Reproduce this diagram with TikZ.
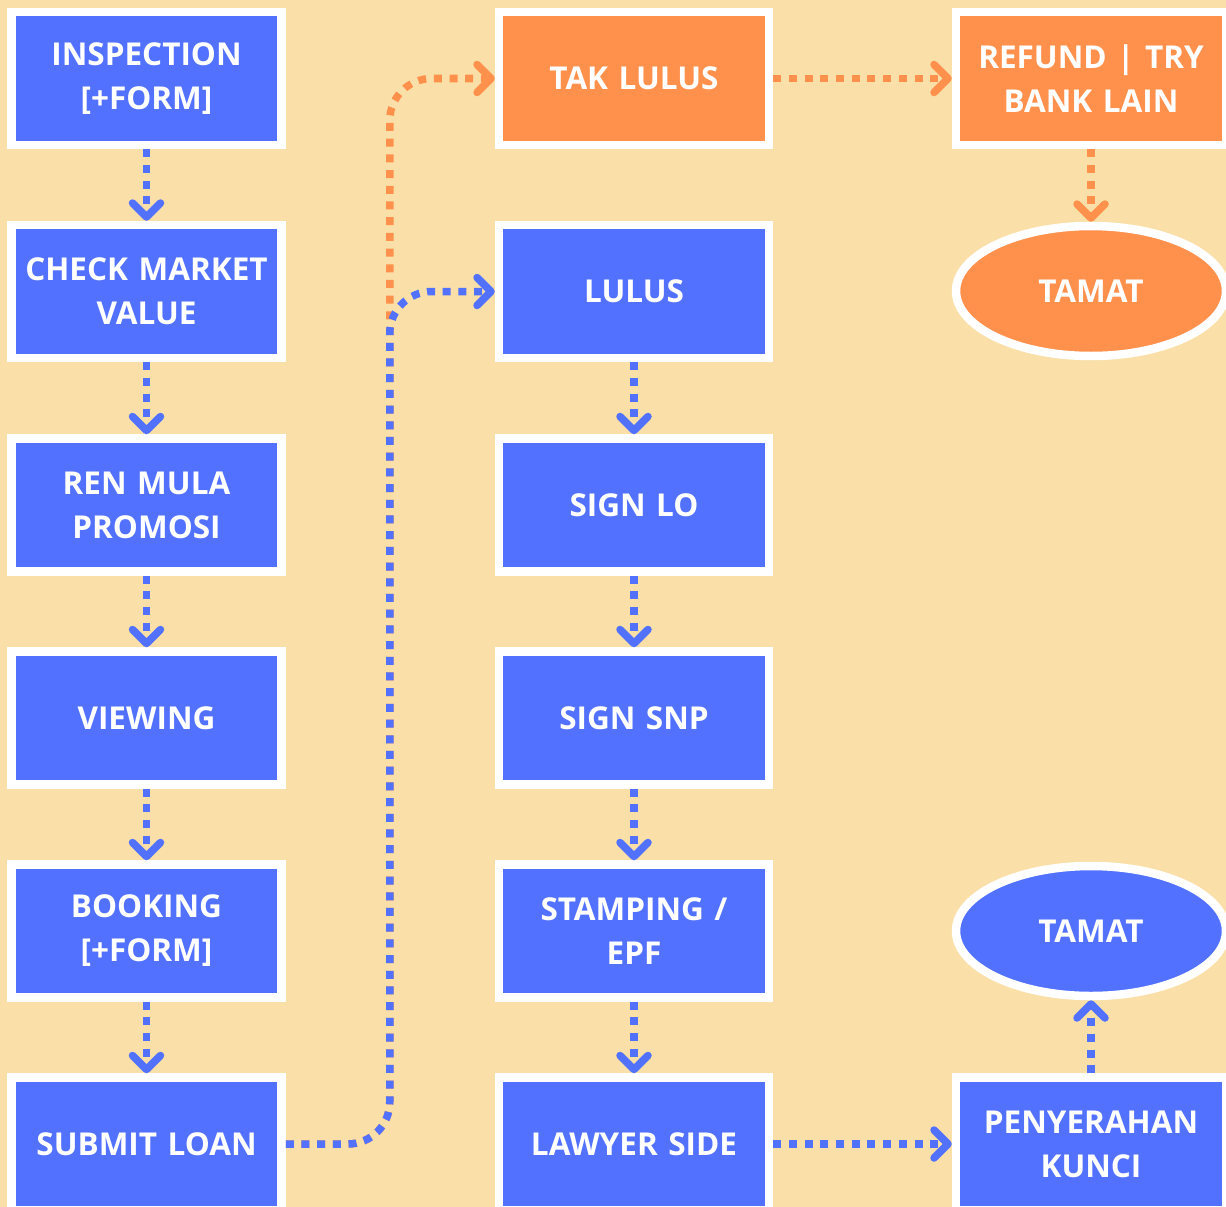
\documentclass[tikz,border=0pt]{standalone}
\usepackage{fontspec}
\setmainfont{Open Sans}
\usetikzlibrary{shapes.geometric,arrows.meta}
\definecolor{bgtan}{HTML}{FAE0A8}
\definecolor{boxblue}{HTML}{5271FF}
\definecolor{boxorange}{HTML}{FF914D}
\begin{document}
\begin{tikzpicture}[x=1pt,y=-1pt,
  lbl/.style={text=white, font=\fontsize{31.5}{44}\selectfont\bfseries, align=center},
  stepbox/.style={lbl, rectangle, draw=white, line width=8.5pt, minimum width=270pt, minimum height=133pt, inner sep=0pt, text width=262pt},
  bluebox/.style={stepbox, fill=boxblue},
  orangebox/.style={stepbox, fill=boxorange},
  endoval/.style={lbl, ellipse, draw=white, line width=8.5pt, minimum width=270pt, minimum height=130pt, inner sep=0pt},
  flow/.style={line width=7.5pt, dash pattern=on 8pt off 7.7pt, -{Straight Barb[length=14pt,width=28pt,line width=7.5pt,round]}},
  blueflow/.style={flow, draw=boxblue},
  orangeflow/.style={flow, draw=boxorange}]
\useasboundingbox (0,0) rectangle (1226,1207);
\clip (0,0) rectangle (1226,1207);
\fill[bgtan] (0,0) rectangle (1226,1207);

% column 1
\node[bluebox] (insp) at (146.5,78.5) {INSPECTION\\{[+FORM]}};
\node[bluebox] (check) at (146.5,291.5) {CHECK MARKET\\VALUE};
\node[bluebox] (ren) at (146.5,505) {REN MULA\\PROMOSI};
\node[bluebox] (view) at (146.5,718) {VIEWING};
\node[bluebox] (book) at (146.5,931) {BOOKING\\{[+FORM]}};
\node[bluebox] (submit) at (146.5,1144) {SUBMIT LOAN};

% column 2
\node[orangebox] (taklulus) at (634,78.5) {TAK LULUS};
\node[bluebox] (lulus) at (634,291.5) {LULUS};
\node[bluebox] (signlo) at (634,505) {SIGN LO};
\node[bluebox] (signsnp) at (634,718) {SIGN SNP};
\node[bluebox] (stamp) at (634,931) {STAMPING /\\EPF};
\node[bluebox] (lawyer) at (634,1144) {LAWYER SIDE};

% column 3
\node[orangebox] (refund) at (1091,78.5) {REFUND | TRY\\BANK LAIN};
\node[endoval, fill=boxorange] (tamat1) at (1091,291) {TAMAT};
\node[endoval, fill=boxblue] (tamat2) at (1091,931) {TAMAT};
\node[bluebox] (kunci) at (1091,1144) {PENYERAHAN\\KUNCI};

% connectors
\draw[blueflow] (insp) -- (check);
\draw[blueflow] (check) -- (ren);
\draw[blueflow] (ren) -- (view);
\draw[blueflow] (view) -- (book);
\draw[blueflow] (book) -- (submit);

\draw[orangeflow, rounded corners=42pt] (submit.east) -| ([xshift=-105pt]taklulus.west) -- (taklulus.west);
\draw[blueflow, rounded corners=42pt] (submit.east) -| ([xshift=-105pt]lulus.west) -- (lulus.west);

\draw[blueflow] (lulus) -- (signlo);
\draw[blueflow] (signlo) -- (signsnp);
\draw[blueflow] (signsnp) -- (stamp);
\draw[blueflow] (stamp) -- (lawyer);
\draw[blueflow] (lawyer) -- (kunci);
\draw[blueflow] (kunci) -- (tamat2);

\draw[orangeflow] (taklulus) -- (refund);
\draw[orangeflow] (refund) -- (tamat1);
\end{tikzpicture}
\end{document}
